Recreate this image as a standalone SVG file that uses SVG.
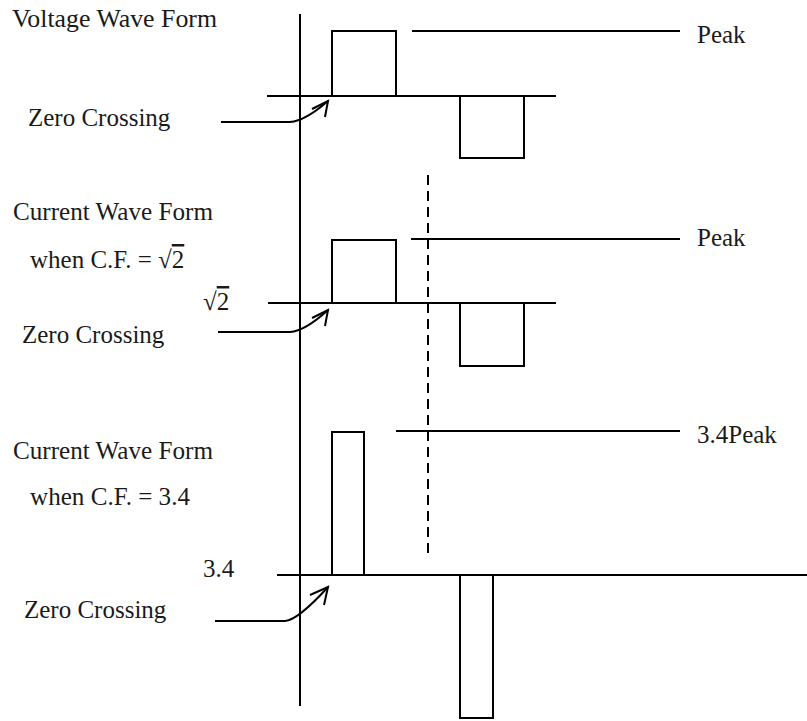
<svg xmlns="http://www.w3.org/2000/svg" width="807" height="721" viewBox="0 0 807 721">
<style>
.ln{fill:none;stroke:#000;stroke-width:2}
.t{font-family:"Liberation Serif","Times New Roman",serif;font-size:25px;fill:#1a1a1a}
.dash{fill:none;stroke:#000;stroke-width:2;stroke-dasharray:10,6}
</style>
<rect width="807" height="721" fill="#fff"/>
<g id="axis"><line class="ln" x1="300" y1="14" x2="300" y2="706"/></g>
<g id="voltage-wave">
<line class="ln" x1="267" y1="96" x2="556" y2="96"/>
<rect class="ln" x="332" y="31" width="64" height="65"/>
<rect class="ln" x="460" y="96" width="64" height="62"/>
<line class="ln" x1="412" y1="31" x2="680" y2="31"/>
<text class="t" x="12" y="27" textLength="205" lengthAdjust="spacingAndGlyphs">Voltage Wave Form</text>
<text class="t" x="697" y="43">Peak</text>
<text class="t" x="28" y="126">Zero Crossing</text>
</g>
<g id="current-wave-1">
<line class="ln" x1="268" y1="303" x2="556" y2="303"/>
<rect class="ln" x="332" y="240" width="64" height="63"/>
<rect class="ln" x="460" y="303" width="64" height="63"/>
<line class="ln" x1="411" y1="239" x2="680" y2="239"/>
<text class="t" x="13" y="220" textLength="200" lengthAdjust="spacingAndGlyphs">Current Wave Form</text>
<text class="t" x="30" y="268">when C.F. = √<tspan text-decoration="overline">2</tspan></text>
<text class="t" x="203" y="310">√<tspan text-decoration="overline">2</tspan></text>
<text class="t" x="697" y="246">Peak</text>
<text class="t" x="22" y="343">Zero Crossing</text>
</g>
<g id="current-wave-2">
<line class="ln" x1="277" y1="575" x2="807" y2="575"/>
<rect class="ln" x="332" y="432" width="32" height="143"/>
<rect class="ln" x="460" y="575" width="33" height="143"/>
<line class="ln" x1="396" y1="431" x2="680" y2="431"/>
<text class="t" x="13" y="459" textLength="200" lengthAdjust="spacingAndGlyphs">Current Wave Form</text>
<text class="t" x="30" y="505" textLength="160" lengthAdjust="spacingAndGlyphs">when C.F. = 3.4</text>
<text class="t" x="203" y="577">3.4</text>
<text class="t" x="697" y="443">3.4Peak</text>
<text class="t" x="24" y="618">Zero Crossing</text>
</g>
<g id="connectors">
<line class="dash" x1="428" y1="175" x2="428" y2="557"/>
<path class="ln" d="M221,122 H290 Q305,121 328,101"/>
<polyline class="ln" points="312,109 328,101 325,117"/>
<path class="ln" d="M218,332 H290 Q305,331 328,310"/>
<polyline class="ln" points="312,318 328,310 325,326"/>
<path class="ln" d="M215,621 H285 Q298,620 328,587"/>
<polyline class="ln" points="310,595 328,587 324,605"/>
</g>
</svg>
